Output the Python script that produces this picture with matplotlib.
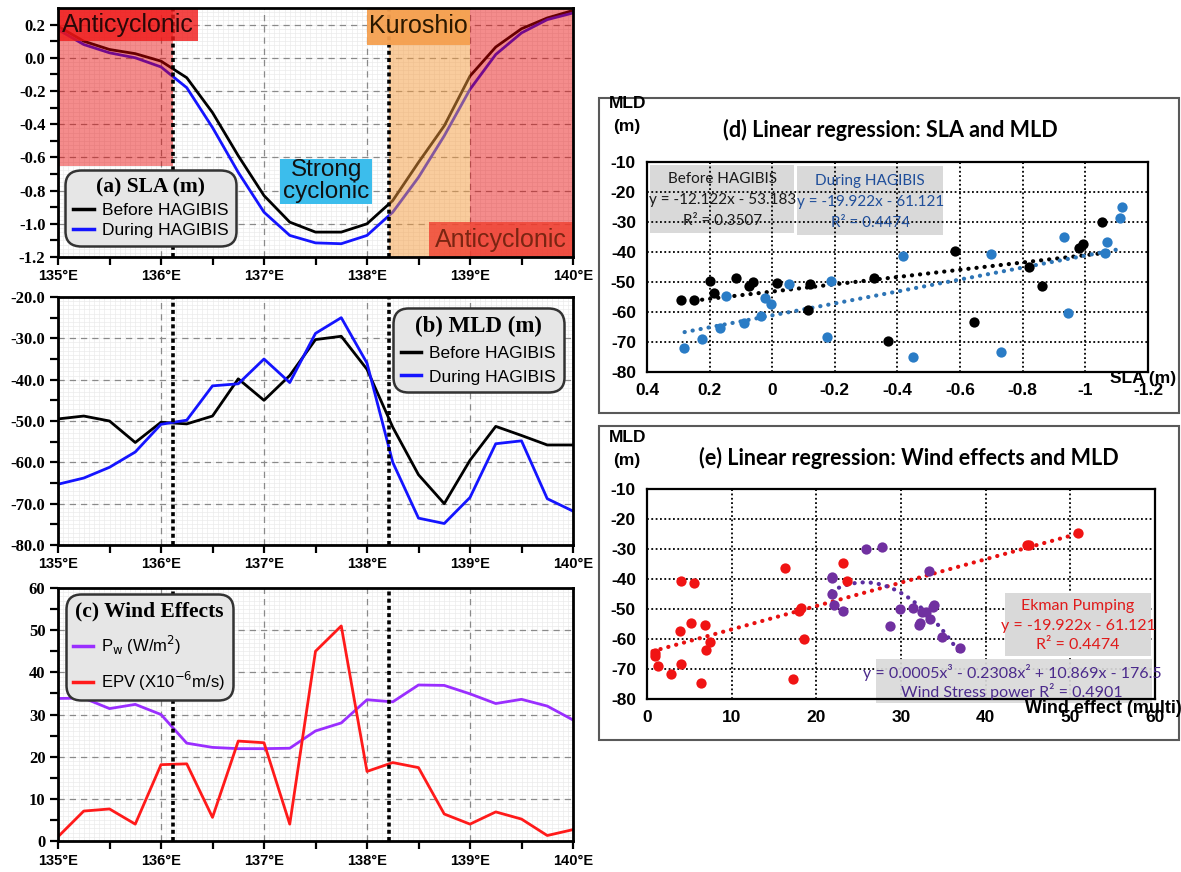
import matplotlib
matplotlib.use("Agg")
import matplotlib.pyplot as plt
import numpy as np
from matplotlib.patches import Rectangle
from matplotlib.lines import Line2D

# ---------------------------------------------------------------------------
# Data
# ---------------------------------------------------------------------------
lon = [135.0, 135.25, 135.5, 135.75, 136.0, 136.25, 136.5, 136.75, 137.0, 137.25,
       137.5, 137.75, 138.0, 138.25, 138.5, 138.75, 139.0, 139.25, 139.5, 139.75, 140.0]

sla_before = [0.19, 0.10, 0.05, 0.025, -0.02, -0.12, -0.33, -0.59, -0.83, -0.99,
              -1.05, -1.05, -1.0, -0.86, -0.63, -0.41, -0.11, 0.065, 0.175, 0.24, 0.285]
sla_during = [0.17, 0.08, 0.03, 0.0, -0.055, -0.18, -0.42, -0.69, -0.93, -1.07,
              -1.115, -1.12, -1.07, -0.93, -0.72, -0.47, -0.19, 0.02, 0.15, 0.23, 0.27]

mld_before = [-49.5, -48.8, -50.0, -55.2, -50.3, -50.7, -48.8, -39.8, -45.0, -39.0,
              -30.3, -29.5, -37.5, -51.5, -63.0, -70.0, -59.5, -51.3, -53.5, -55.8, -55.8]
mld_during = [-65.3, -63.8, -61.2, -57.5, -50.8, -49.8, -41.5, -41.0, -35.0, -40.7,
              -28.8, -25.0, -36.0, -60.0, -73.5, -74.8, -68.5, -55.5, -54.8, -68.8, -71.8]

pw = [33.8, 33.9, 31.4, 32.4, 30.0, 23.2, 22.2, 21.9, 21.9, 22.0,
      26.1, 28.0, 33.5, 33.0, 37.0, 36.9, 34.9, 32.6, 33.6, 32.0, 28.7]
epv = [1.0, 7.1, 7.6, 4.0, 18.1, 18.3, 5.6, 23.7, 23.3, 4.0,
       45.0, 51.0, 16.5, 18.6, 17.4, 6.4, 4.0, 6.9, 5.2, 1.3, 2.7]

typhoon_track = [136.12, 138.21]

# (d) SLA vs MLD scatter
d_sla_before = [0.293, 0.25, 0.198, 0.186, 0.117, 0.074, 0.062, -0.015, -0.113, -0.121,
                -0.324, -0.369, -0.583, -0.643, -0.821, -0.86, -0.981, -0.993, -1.052]
d_mld_before = [-56.0, -56.0, -49.6, -53.7, -48.8, -51.3, -50.1, -50.2, -59.4, -50.8,
                -48.8, -69.8, -39.7, -63.2, -44.9, -51.3, -38.8, -37.5, -29.9]
d_sla_during = [0.281, 0.225, 0.167, 0.148, 0.089, 0.036, 0.024, 0.004, -0.054, -0.176,
                -0.187, -0.419, -0.448, -0.70, -0.73, -0.932, -0.945, -1.062, -1.069, -1.112, -1.117]
d_mld_during = [-72.0, -68.9, -65.4, -54.7, -63.8, -61.2, -55.4, -57.4, -50.6, -68.4,
                -49.8, -41.5, -75.0, -40.7, -73.3, -35.0, -60.2, -40.5, -36.6, -28.8, -25.0]
fit_before = [-12.122, -53.183]
fit_during = [-19.922, -61.121]
fit_before_range = [0.25, -1.05]
fit_during_range = [0.28, -1.12]

# (e) wind effects vs MLD scatter
ek_x = [0.9, 0.9, 1.3, 2.8, 4.0, 3.9, 4.0, 5.2, 5.5, 6.35, 6.8, 7.0, 7.5,
        16.3, 17.3, 18.0, 18.2, 18.6, 23.1, 23.6, 44.9, 45.1, 50.9]
ek_y = [-64.5, -65.8, -68.9, -71.8, -40.6, -57.2, -68.4, -54.6, -41.4, -74.8, -55.4, -63.6, -61.1,
        -36.3, -73.4, -50.5, -49.5, -60.0, -34.7, -40.8, -28.6, -28.5, -24.8]
ws_x = [21.8, 21.9, 21.8, 22.1, 23.2, 25.9, 27.8, 28.7, 29.9, 31.4,
        32.1, 32.3, 32.5, 33.0, 33.3, 33.4, 33.8, 33.9, 34.85, 37.0]
ws_y = [-39.2, -39.7, -44.9, -48.7, -50.5, -30.0, -29.2, -55.7, -50.1, -49.7,
        -55.3, -54.8, -51.1, -51.1, -37.3, -53.3, -49.2, -48.7, -59.2, -63.0]
fit_ekman = [0.78, -64.6]          # dotted trendline as drawn
fit_ekman_range = [0.66, 51.0]
fit_wsp = [0.0005, -0.2308, 10.869, -176.5]
fit_wsp_range = [21.8, 37.0]

lon_ticks = [135, 136, 137, 138, 139, 140]
lon_labels = ["135°E", "136°E", "137°E", "138°E", "139°E", "140°E"]
sla_ticks = [0.4, 0.2, 0.0, -0.2, -0.4, -0.6, -0.8, -1.0, -1.2]
sla_labels = ["0.4", "0.2", "0", "-0.2", "-0.4", "-0.6", "-0.8", "-1", "-1.2"]
mld_ticks = [-80, -70, -60, -50, -40, -30, -20, -10]
wind_ticks = [0, 10, 20, 30, 40, 50, 60]

SERIF = "Liberation Serif"
SANS = "Liberation Sans"
CAL = "Lato"

W, H = 1181, 872
fig = plt.figure(figsize=(W / 100, H / 100), dpi=100)


def px(x, y):
    return x / W, 1 - y / H


def ax_rect(left, top, right, bottom):
    return [left / W, 1 - bottom / H, (right - left) / W, (bottom - top) / H]


def setup_lon_axis(ax, ylim, yticks, ylabels, yminor, fine_y):
    ax.set_xlim(135, 140)
    ax.set_ylim(*ylim)
    ax.set_xticks(lon_ticks, labels=lon_labels, fontfamily=SANS, fontweight="bold", fontsize=10.5)
    ax.set_xticks(np.arange(135.5, 140, 1.0), minor=True)
    ax.set_yticks(yticks, labels=ylabels, fontfamily=SERIF, fontweight="bold", fontsize=12)
    ax.set_yticks(yminor, minor=True)
    # fine background grid
    for v in np.arange(135, 140.001, 0.05):
        ax.axvline(v, color="#ebebeb", lw=0.5, zorder=0)
    for v in np.arange(ylim[0], ylim[1] + 1e-9, fine_y):
        ax.axhline(v, color="#ebebeb", lw=0.5, zorder=0)
    ax.grid(which="major", color="#8a8a8a", ls=(0, (5, 4)), lw=0.9, zorder=0.5)
    ax.tick_params(which="both", direction="out", width=1.6, length=6, pad=3)
    for s in ax.spines.values():
        s.set_linewidth(2)
        s.set_zorder(7)
    for xv in typhoon_track:
        ax.axvline(xv, color="k", ls=(0, (1.1, 0.9)), lw=2.6, zorder=4.5)


def legend_box(ax, handles, labels, title, anchor, tsize, spacing, lsize=12.5):
    leg = ax.legend(handles, labels, title=title, loc="upper left", bbox_to_anchor=anchor,
                    frameon=True, fancybox=True, facecolor="#e6e6e6", edgecolor="#333333",
                    framealpha=1, prop={"family": SANS, "size": lsize},
                    title_fontproperties={"family": SERIF, "weight": "bold", "size": tsize},
                    handlelength=1.2, handletextpad=0.45, labelspacing=spacing, borderpad=0.45,
                    borderaxespad=0)
    leg.get_frame().set_linewidth(1.8)
    leg.get_frame().set_boxstyle("round,pad=0,rounding_size=0.9")
    leg.set_zorder(8)
    return leg


# ---------------------------------------------------------------------------
# (a) SLA
# ---------------------------------------------------------------------------
axa = fig.add_axes(ax_rect(58, 8, 573, 257))
setup_lon_axis(axa, (-1.2, 0.3), [-1.2, -1.0, -0.8, -0.6, -0.4, -0.2, 0.0, 0.2],
               ["-1.2", "-1.0", "-0.8", "-0.6", "-0.4", "-0.2", "0.0", "0.2"],
               [-1.1, -0.9, -0.7, -0.5, -0.3, -0.1, 0.1], 0.025)
axa.plot(lon, sla_before, color="k", lw=2, zorder=2)
axa.plot(lon, sla_during, color="#1414ff", lw=2, zorder=2)

# regime shading (drawn over the curves, like the original)
axa.add_patch(Rectangle((135, -0.65), typhoon_track[0] - 135, 0.95, color="#e80000",
                        alpha=0.45, lw=0, zorder=3))
axa.add_patch(Rectangle((typhoon_track[1], -1.2), 139 - typhoon_track[1], 1.5, color="#f59a3c",
                        alpha=0.5, lw=0, zorder=3))
axa.add_patch(Rectangle((139, -1.2), 1, 1.5, color="#e80000", alpha=0.45, lw=0, zorder=3))
# label boxes sit on top of the track lines
axa.add_patch(Rectangle((135, 0.1), 1.36, 0.2, color="#f01818", alpha=0.8, lw=0, zorder=4.6))
axa.add_patch(Rectangle((138.0, 0.08), 1.0, 0.22, color="#f5a050", alpha=0.95, lw=0, zorder=4.6))
axa.add_patch(Rectangle((138.6, -1.2), 1.4, 0.21, color="#f04030", alpha=0.8, lw=0, zorder=4.6))
axa.add_patch(Rectangle((137.16, -0.88), 0.89, 0.27, color="#3cbdec", lw=0, zorder=4.6))
axa.text(135.04, 0.2, "Anticyclonic", fontsize=18, family=SANS, color="#2a0808",
         va="center", ha="left", zorder=4.8)
axa.text(138.5, 0.19, "Kuroshio", fontsize=18, family=SANS, color="#2a1800",
         va="center", ha="center", zorder=4.8)
axa.text(139.3, -1.095, "Anticyclonic", fontsize=18, family=SANS, color="#7a2512",
         va="center", ha="center", zorder=4.8)
axa.text(137.605, -0.745, "Strong\ncyclonic", fontsize=17.5, family=SANS, color="#111111",
         va="center", ha="center", linespacing=1.0, zorder=4.8)
legend_box(axa, [Line2D([], [], color="k", lw=2.5), Line2D([], [], color="#1414ff", lw=2.5)],
           ["Before HAGIBIS", "During HAGIBIS"], "(a) SLA (m)", (0.014, 0.35), 15.5, 0.3)

# ---------------------------------------------------------------------------
# (b) MLD
# ---------------------------------------------------------------------------
axb = fig.add_axes(ax_rect(58, 297, 573, 545))
setup_lon_axis(axb, (-80, -20), [-80, -70, -60, -50, -40, -30, -20],
               ["-80.0", "-70.0", "-60.0", "-50.0", "-40.0", "-30.0", "-20.0"],
               [-75, -65, -55, -45, -35, -25], 1)
axb.plot(lon, mld_before, color="k", lw=2, zorder=2)
axb.plot(lon, mld_during, color="#1414ff", lw=2, zorder=2)
legend_box(axb, [Line2D([], [], color="k", lw=2.5), Line2D([], [], color="#1414ff", lw=2.5)],
           ["Before HAGIBIS", "During HAGIBIS"], "(b) MLD (m)", (0.65, 0.956), 16.5, 0.5)

# ---------------------------------------------------------------------------
# (c) Wind effects
# ---------------------------------------------------------------------------
axc = fig.add_axes(ax_rect(58, 588, 573, 841))
setup_lon_axis(axc, (0, 60), [0, 10, 20, 30, 40, 50, 60],
               ["0", "10", "20", "30", "40", "50", "60"],
               [5, 15, 25, 35, 45, 55], 1)
axc.plot(lon, pw, color="#9a2eff", lw=2, zorder=2)
axc.plot(lon, epv, color="#ff1a1a", lw=2, zorder=2)
legend_box(axc, [Line2D([], [], color="#9a2eff", lw=2.5), Line2D([], [], color="#ff1a1a", lw=2.5)],
           ["P$_\\mathrm{w}$ (W/m$^2$)", "EPV (X10$^{-6}$m/s)"], "(c) Wind Effects",
           (0.0155, 0.976), 15.5, 0.75, lsize=12)

# ---------------------------------------------------------------------------
# right-hand panels (spreadsheet style)
# ---------------------------------------------------------------------------
for top, bottom in [(98, 413), (426, 740)]:
    x0, y0 = px(599, bottom)
    fig.add_artist(Rectangle((x0, y0), 580 / W, (bottom - top) / H, transform=fig.transFigure,
                             fill=False, ec="#595959", lw=1.5))


def setup_excel_axis(ax):
    ax.set_yticks(mld_ticks)
    ax.set_yticklabels([str(v) for v in mld_ticks], fontfamily=SANS, fontweight="bold", fontsize=12.5)
    ax.set_ylim(-80, -10)
    ax.tick_params(length=0, pad=8)
    ax.grid(color="k", ls=(0, (1, 1.4)), lw=1.3)
    ax.set_axisbelow(True)
    for s in ax.spines.values():
        s.set_linewidth(1.6)


def dotted(ax, x, y, color):
    ax.plot(x, y, color=color, lw=3, ls=(0, (0.05, 1.9)), dash_capstyle="round",
            solid_capstyle="round", zorder=2.5)


# (d)
axd = fig.add_axes(ax_rect(647, 162, 1148, 372))
setup_excel_axis(axd)
axd.set_xlim(0.4, -1.2)
axd.set_xticks(sla_ticks)
axd.set_xticklabels(sla_labels, fontfamily=SANS, fontweight="bold", fontsize=12.5)
axd.add_patch(Rectangle((-0.07, -33.8), 0.46, 22.7, color="#d9d9d9", lw=0, zorder=0.3))
axd.add_patch(Rectangle((-0.546, -34.5), 0.466, 23.0, color="#d9d9d9", lw=0, zorder=0.3))
xs = np.linspace(*fit_before_range, 50)
dotted(axd, xs, fit_before[0] * xs + fit_before[1], "k")
xs = np.linspace(*fit_during_range, 50)
dotted(axd, xs, fit_during[0] * xs + fit_during[1], "#2e75b6")
axd.scatter(d_sla_before, d_mld_before, s=55, color="k", zorder=3, lw=0)
axd.scatter(d_sla_during, d_mld_during, s=55, color="#2a7cc6", zorder=3, lw=0)
for yy, txt in zip([-15.8, -22.7, -29.7], ["Before HAGIBIS", "y = -12.122x - 53.183", "R² = 0.3507"]):
    axd.text(0.16, yy, txt, family=CAL, fontsize=11, ha="center", va="center", color="#1a1a1a", zorder=4)
for yy, txt in zip([-16.3, -23.3, -30.2], ["During HAGIBIS", "y = -19.922x - 61.121", "R² = 0.4474"]):
    axd.text(-0.313, yy, txt, family=CAL, fontsize=11, ha="center", va="center", color="#1f4e9a", zorder=4)
fig.text(*px(609, 104), "MLD", family=SANS, fontweight="bold", fontsize=12.5, va="center")
fig.text(*px(613, 126), "(m)", family=SANS, fontweight="bold", fontsize=12.5, va="center")
fig.text(*px(890, 130), "(d) Linear regression: SLA and MLD", family=CAL, fontweight="bold",
         fontsize=15.5, ha="center", va="center")
fig.text(*px(1143, 379), "SLA (m)", family=SANS, fontweight="bold", fontsize=12.5,
         ha="center", va="center")

# (e)
axe = fig.add_axes(ax_rect(647, 489, 1155, 699))
setup_excel_axis(axe)
axe.set_xlim(0, 60)
axe.set_xticks(wind_ticks)
axe.set_xticklabels([str(v) for v in wind_ticks], fontfamily=SANS, fontweight="bold", fontsize=12.5)
axe.add_patch(Rectangle((42.3, -65.6), 17.2, 20.9, color="#d9d9d9", lw=0, zorder=1.5))
axe.add_patch(Rectangle((27.1, -81.4), 32.5, 14.7, color="#d9d9d9", lw=0, zorder=1.5,
                        clip_on=False, alpha=0.92))
xs = np.linspace(*fit_ekman_range, 60)
dotted(axe, xs, np.polyval(fit_ekman, xs), "#e81010")
xs = np.linspace(*fit_wsp_range, 40)
dotted(axe, xs, np.polyval(fit_wsp, xs), "#5b2ca0")
axe.scatter(ek_x, ek_y, s=55, color="#f01414", zorder=3, lw=0)
axe.scatter(ws_x, ws_y, s=55, color="#7030a0", zorder=3, lw=0)
for yy, txt in zip([-48.9, -55.5, -62.0], ["Ekman Pumping", "y = -19.922x - 61.121", "R² = 0.4474"]):
    axe.text(50.9, yy, txt, family=CAL, fontsize=11.5, ha="center", va="center", color="#e01a1a", zorder=4)
for yy, txt in zip([-71.3, -77.5], ["y = 0.0005x³ - 0.2308x² + 10.869x - 176.5",
                                    "Wind Stress power R² = 0.4901"]):
    axe.text(43.1, yy, txt, family=CAL, fontsize=11.5, ha="center", va="center", color="#4b2a8c",
             zorder=4, clip_on=False)
fig.text(*px(609, 437), "MLD", family=SANS, fontweight="bold", fontsize=12.5, va="center")
fig.text(*px(613, 460), "(m)", family=SANS, fontweight="bold", fontsize=12.5, va="center")
fig.text(*px(909, 458), "(e) Linear regression: Wind effects and MLD", family=CAL, fontweight="bold",
         fontsize=15.5, ha="center", va="center")
fig.text(*px(1103, 708), "Wind effect (multi)", family=SANS, fontweight="bold", fontsize=13,
         ha="center", va="center", zorder=5)

fig.savefig("out.png", dpi=100)
